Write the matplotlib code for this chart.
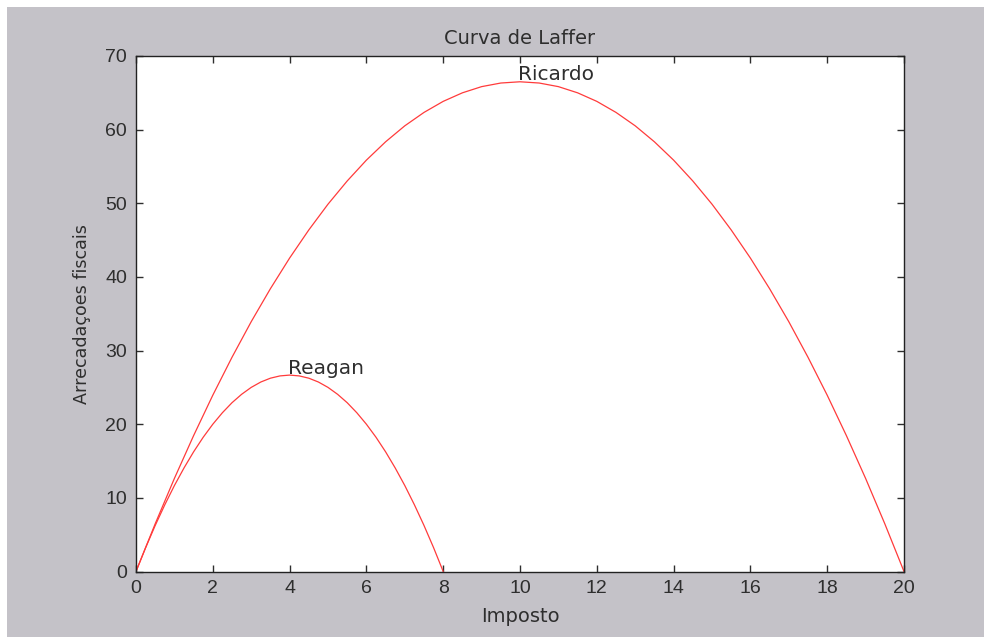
import matplotlib
matplotlib.use("Agg")
import matplotlib.pyplot as plt
from matplotlib.patches import Rectangle

# Data
ricardo_x = [0, 0.5, 1, 1.5, 2, 2.5, 3, 3.5, 4, 4.5, 5, 5.5, 6, 6.5, 7, 7.5, 8, 8.5, 9, 9.5, 10,
             10.5, 11, 11.5, 12, 12.5, 13, 13.5, 14, 14.5, 15, 15.5, 16, 16.5, 17, 17.5, 18, 18.5, 19, 19.5, 20]
ricardo_y = [0, 6.48, 12.64, 18.45, 23.94, 29.09, 33.92, 38.40, 42.56, 46.38, 49.88, 53.03, 55.86,
             58.35, 60.52, 62.34, 63.84, 65.00, 65.84, 66.33, 66.50,
             66.33, 65.84, 65.00, 63.84, 62.34, 60.52, 58.35, 55.86, 53.03, 49.88, 46.38, 42.56,
             38.40, 33.92, 29.09, 23.94, 18.45, 12.64, 6.48, 0]
reagan_x = [0, 0.25, 0.5, 0.75, 1, 1.25, 1.5, 1.75, 2, 2.25, 2.5, 2.75, 3, 3.25, 3.5, 3.75, 4,
            4.25, 4.5, 4.75, 5, 5.25, 5.5, 5.75, 6, 6.25, 6.5, 6.75, 7, 7.25, 7.5, 7.75, 8]
reagan_y = [0, 3.23, 6.25, 9.06, 11.67, 14.06, 16.25, 18.23, 20.0, 21.56, 22.92, 24.06, 25.0,
            25.73, 26.25, 26.56, 26.67,
            26.56, 26.25, 25.73, 25.0, 24.06, 22.92, 21.56, 20.0, 18.23, 16.25, 14.06, 11.67,
            9.06, 6.25, 3.23, 0]
x_ticks = [0, 2, 4, 6, 8, 10, 12, 14, 16, 18, 20]
y_ticks = [0, 10, 20, 30, 40, 50, 60, 70]
labels = [("Ricardo", 10, 66.5), ("Reagan", 4, 26.67)]

plt.rcParams['font.family'] = ['DejaVu Sans']
tick_font = 'Liberation Sans'
txt_color = '#2e2e2e'

W, H = 984, 637
fig = plt.figure(figsize=(W / 100, H / 100), dpi=100, facecolor='white')
bg = '#c4c2c8'
fig.patches.append(Rectangle((7 / W, 0), 1 - 7 / W, 1 - 7 / H, transform=fig.transFigure,
                             facecolor=bg, edgecolor='none', zorder=-10))

ax = fig.add_axes([136 / W, (H - 571.5) / H, (904 - 136) / W, (571.5 - 56) / H])
ax.set_facecolor('white')

red = '#ff3b3b'
ax.plot(ricardo_x, ricardo_y, color=red, lw=0.9)
ax.plot(reagan_x, reagan_y, color=red, lw=0.9)

for txt, xx, yy in labels:
    ax.text(xx - 0.05, yy + 0.2, txt, fontsize=14.5, color=txt_color, ha='left', va='baseline')

ax.set_xlim(0, 20)
ax.set_ylim(0, 70)
ax.set_xticks(x_ticks)
ax.set_yticks(y_ticks)
ax.tick_params(direction='in', length=5, width=1, top=True, right=True,
               labelsize=14, colors=txt_color)
ax.tick_params(axis='y', pad=6.5)
ax.tick_params(axis='x', pad=6)
for lab in ax.get_xticklabels() + ax.get_yticklabels():
    lab.set_fontfamily(tick_font)
for s in ax.spines.values():
    s.set_color('#222222')
    s.set_linewidth(1.0)

ax.set_title('Curva de Laffer', fontsize=14, color=txt_color, pad=9)
ax.set_xlabel('Imposto', fontsize=14, color=txt_color, labelpad=7)
ax.set_ylabel('Arrecadaçoes fiscais', fontsize=12.6, color=txt_color, labelpad=10)

fig.savefig('out.png', dpi=100, facecolor=fig.get_facecolor())
